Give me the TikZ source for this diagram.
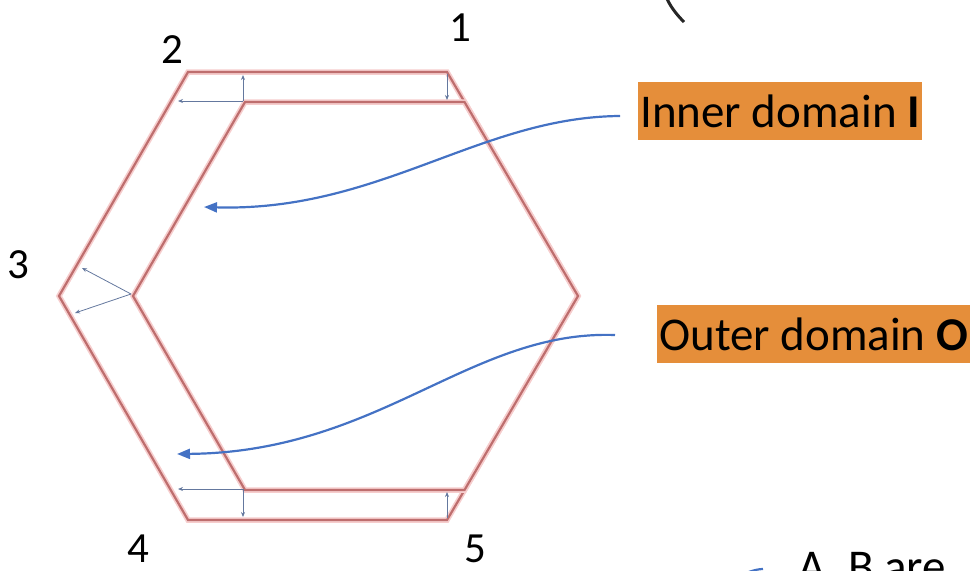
\documentclass[tikz,border=0pt]{standalone}
\usepackage{fontspec}
\setmainfont{Carlito}
\usetikzlibrary{arrows.meta}
\definecolor{hexline}{RGB}{190,110,110}
\definecolor{hexglow}{RGB}{246,205,205}
\definecolor{gapblue}{RGB}{100,120,158}
\definecolor{callblue}{RGB}{68,114,196}
\definecolor{tagorange}{RGB}{229,142,58}
\begin{document}
\begin{tikzpicture}[x=1pt,y=-1pt,
  hexedge/.style={line width=2.2pt,draw=hexline,line join=miter,preaction={draw=hexglow,line width=5.5pt}},
  gap/.style={gapblue,line width=0.8pt,-{Stealth[length=5pt,width=4pt]}},
  pointer/.style={callblue,line width=2.2pt,-{Triangle[length=13pt,width=10pt]}},
  corner/.style={font=\fontsize{43}{50}\selectfont,inner sep=0pt},
  tag/.style={fill=tagorange,font=\fontsize{47}{56}\selectfont,inner xsep=2pt,inner ysep=0pt,minimum height=58pt,anchor=west}]
  \useasboundingbox (0,0) rectangle (973,570);
  % outer and inner hexagon (shared right vertex)
  \coordinate (o1) at (447,72);  \coordinate (o2) at (188,72);  \coordinate (o3) at (59,296);
  \coordinate (o4) at (188,520); \coordinate (o5) at (447,520); \coordinate (o6) at (578,296);
  \coordinate (i1) at (464.5,102); \coordinate (i2) at (245,102); \coordinate (i3) at (133,296);
  \coordinate (i4) at (245,490);   \coordinate (i5) at (464.5,490);
  \draw[hexedge] (o1) -- (o2) -- (o3) -- (o4) -- (o5) -- (o6) -- cycle;
  \draw[hexedge] (i1) -- (i2) -- (i3) -- (i4) -- (i5) -- (o6) -- cycle;
  % gap widths
  \coordinate (ta) at (243,101); \coordinate (ba) at (243,489); \coordinate (la) at (131,294);
  \draw[gap] (ta) -- (243,75);
  \draw[gap] (ta) -- (178,101);
  \draw[gap] (447,74) -- (447,100);
  \draw[gap] (la) -- (82,268);
  \draw[gap] (la) -- (75,313);
  \draw[gap] (ba) -- (178,489);
  \draw[gap] (ba) -- (243,517);
  \draw[gap] (447,518) -- (447,492);
  % corner numbers
  \node[corner] (n1) at (460,28) {1};
  \node[corner] (n2) at (172,50) {2};
  \node[corner] (n3) at (18,265) {3};
  \node[corner] (n4) at (138,549) {4};
  \node[corner] (n5) at (475,549) {5};
  % domain tags
  \node[tag] (inner) at (638,111) {Inner domain \textbf{I}};
  \node[tag] (outer) at (657,334) {Outer domain \textbf{O}};
  \coordinate (innertip) at (204,207);
  \coordinate (outertip) at (177,454);
  \draw[pointer] ([xshift=-18pt,yshift=-5pt]inner.west) .. controls +(-140,1) and +(175,5) .. (innertip);
  \draw[pointer] ([xshift=-42pt,yshift=-1pt]outer.west) .. controls +(-145,-5) and +(203,-2) .. (outertip);
  % cut-off parts at the edges
  \node[font=\fontsize{47}{56}\selectfont,anchor=base west,inner sep=0pt] (ab) at (798,582) {A, B are};
  \coordinate (abtail) at (700,596);
  \draw[pointer] ([xshift=-35pt,yshift=1pt]ab.west) .. controls +(-20,1) and +(25,-10) .. (abtail);
  \draw[line width=3pt,black!85] (665,-6) .. controls (669,5) and (676,14) .. (684,22);
\end{tikzpicture}
\end{document}
